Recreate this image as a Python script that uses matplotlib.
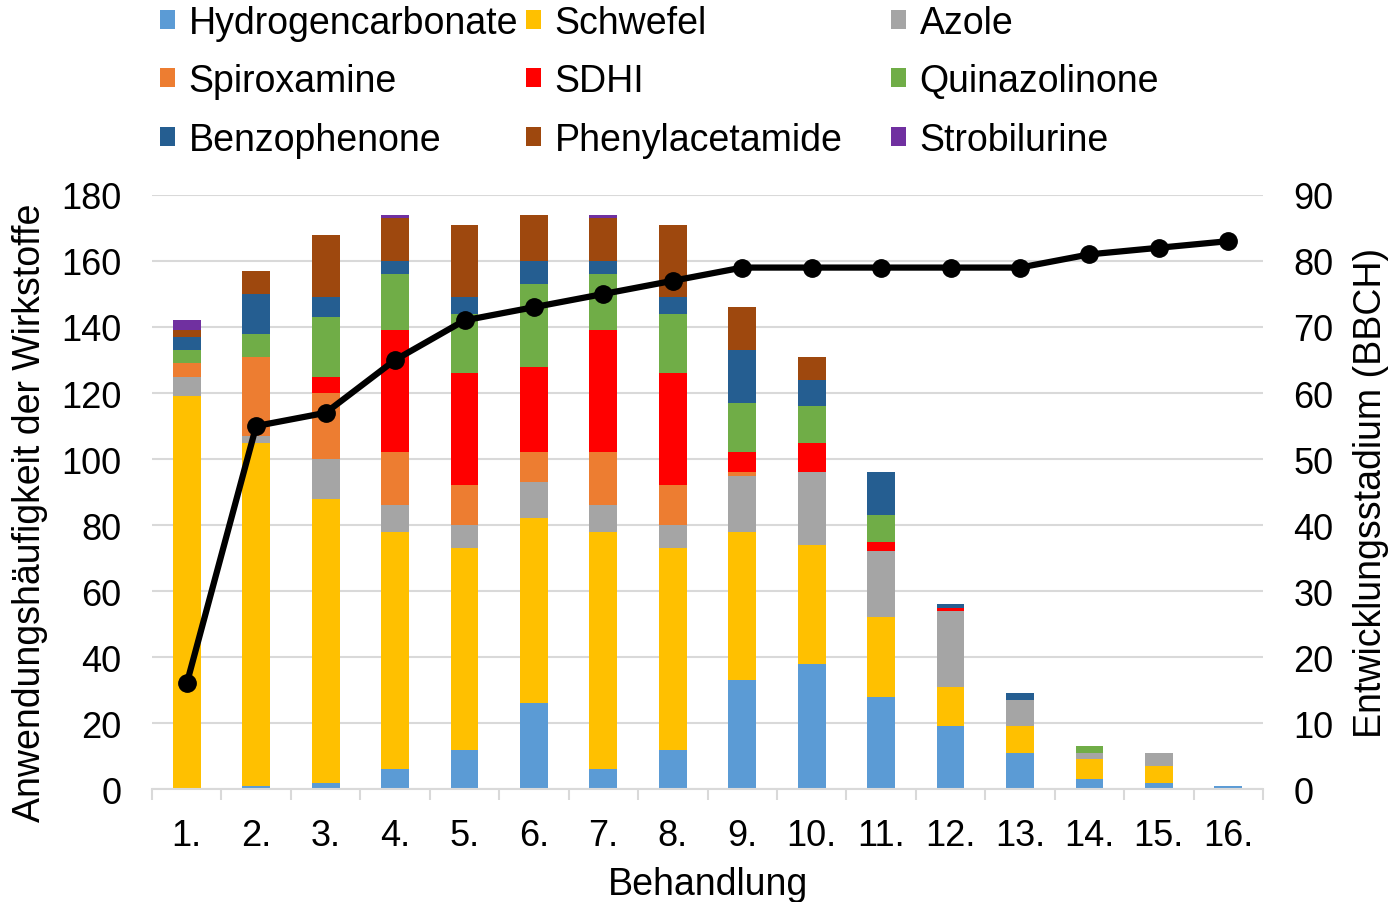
import numpy as np
import matplotlib
matplotlib.use('Agg')
import matplotlib.pyplot as plt

plt.rcParams['font.family'] = ['Liberation Sans', 'DejaVu Sans']

# Behandlungen 1.-16.
labels = [f'{i}.' for i in range(1, 17)]

# Anwendungshaeufigkeit je Wirkstoffgruppe (gestapelt, von unten nach oben)
hydrogencarbonate = [0, 1, 2, 6, 12, 26, 6, 12, 33, 38, 28, 19, 11, 3, 2, 1]
schwefel = [119, 104, 86, 72, 61, 56, 72, 61, 45, 36, 24, 12, 8, 6, 5, 0]
azole = [6, 2, 12, 8, 7, 11, 8, 7, 17, 22, 20, 23, 8, 2, 4, 0]
spiroxamine = [4, 24, 20, 16, 12, 9, 16, 12, 1, 0, 0, 0, 0, 0, 0, 0]
sdhi = [0, 0, 5, 37, 34, 26, 37, 34, 6, 9, 3, 1, 0, 0, 0, 0]
quinazolinone = [4, 7, 18, 17, 18, 25, 17, 18, 15, 11, 8, 0, 0, 2, 0, 0]
benzophenone = [4, 12, 6, 4, 5, 7, 4, 5, 16, 8, 13, 1, 2, 0, 0, 0]
phenylacetamide = [2, 7, 19, 13, 22, 14, 13, 22, 13, 7, 0, 0, 0, 0, 0, 0]
strobilurine = [3, 0, 0, 1, 0, 0, 1, 0, 0, 0, 0, 0, 0, 0, 0, 0]

# Entwicklungsstadium (BBCH) zum Zeitpunkt der Behandlung
bbch = [16, 55, 57, 65, 71, 73, 75, 77, 79, 79, 79, 79, 79, 81, 82, 83]

series = [
    ('Hydrogencarbonate', hydrogencarbonate, '#5B9BD5'),
    ('Schwefel', schwefel, '#FFC000'),
    ('Azole', azole, '#A5A5A5'),
    ('Spiroxamine', spiroxamine, '#ED7D31'),
    ('SDHI', sdhi, '#FF0000'),
    ('Quinazolinone', quinazolinone, '#70AD47'),
    ('Benzophenone', benzophenone, '#255E91'),
    ('Phenylacetamide', phenylacetamide, '#9E480E'),
    ('Strobilurine', strobilurine, '#7030A0'),
]

FS = 26
LFS = 27
fig = plt.figure(figsize=(13.91, 9.03), dpi=100)
ax = fig.add_axes([0.1093, 0.125, 0.7987, 0.658])

x = np.arange(len(labels))
bottom = np.zeros(len(labels))
handles = {}
for name, vals, col in series:
    vals = np.array(vals, dtype=float)
    b = ax.bar(x, vals, 0.4, bottom=bottom, color=col, linewidth=0, zorder=2)
    handles[name] = b
    bottom += vals

ax.set_xlim(-0.5, len(labels) - 0.5)
ax.set_ylim(0, 180)
ax.set_yticks(range(0, 181, 20))
ax.grid(axis='y', color='#d9d9d9', linewidth=1.5, zorder=0)
ax.set_axisbelow(True)
for s in ['top', 'right', 'left']:
    ax.spines[s].set_visible(False)
ax.spines['bottom'].set_color('#d9d9d9')
ax.spines['bottom'].set_linewidth(1.5)
ax.tick_params(axis='y', length=0, labelsize=FS, pad=22)
ax.set_xticks(x)
ax.set_xticklabels(labels)
ax.tick_params(axis='x', length=0, labelsize=FS, pad=21)
ax.set_xticks(np.arange(-0.5, len(labels)), minor=True)
ax.tick_params(axis='x', which='minor', length=8, width=1.5, color='#d9d9d9')
ax.set_xlabel('Behandlung', fontsize=LFS, labelpad=9)
ax.set_ylabel('Anwendungshäufigkeit der Wirkstoffe', fontsize=LFS)
ax.yaxis.set_label_coords(-0.094, 0.466)

ax2 = ax.twinx()
ax2.plot(x, bbch, color='black', linewidth=4.5, marker='o', markersize=12.5, zorder=5)
ax2.set_ylim(0, 90)
ax2.set_yticks(range(0, 91, 10))
for s in ax2.spines.values():
    s.set_visible(False)
ax2.tick_params(axis='y', length=0, labelsize=FS, pad=22)
ax2.set_ylabel('Entwicklungsstadium (BBCH)', fontsize=LFS, labelpad=14)

# Legende: drei Spalten, zeilenweise wie im Original
columns = [
    ['Hydrogencarbonate', 'Spiroxamine', 'Benzophenone'],
    ['Schwefel', 'SDHI', 'Phenylacetamide'],
    ['Azole', 'Quinazolinone', 'Strobilurine'],
]
col_x = [0.1107, 0.3738, 0.6362]
for cx, names in zip(col_x, columns):
    leg = fig.legend([handles[n] for n in names], names, loc='upper left',
                     bbox_to_anchor=(cx, 1.0), frameon=False, fontsize=LFS,
                     handlelength=0.42, handleheight=0.42, handletextpad=0.35,
                     labelspacing=0.6, borderpad=0, borderaxespad=0.15)

fig.savefig('out.png', dpi=100)
